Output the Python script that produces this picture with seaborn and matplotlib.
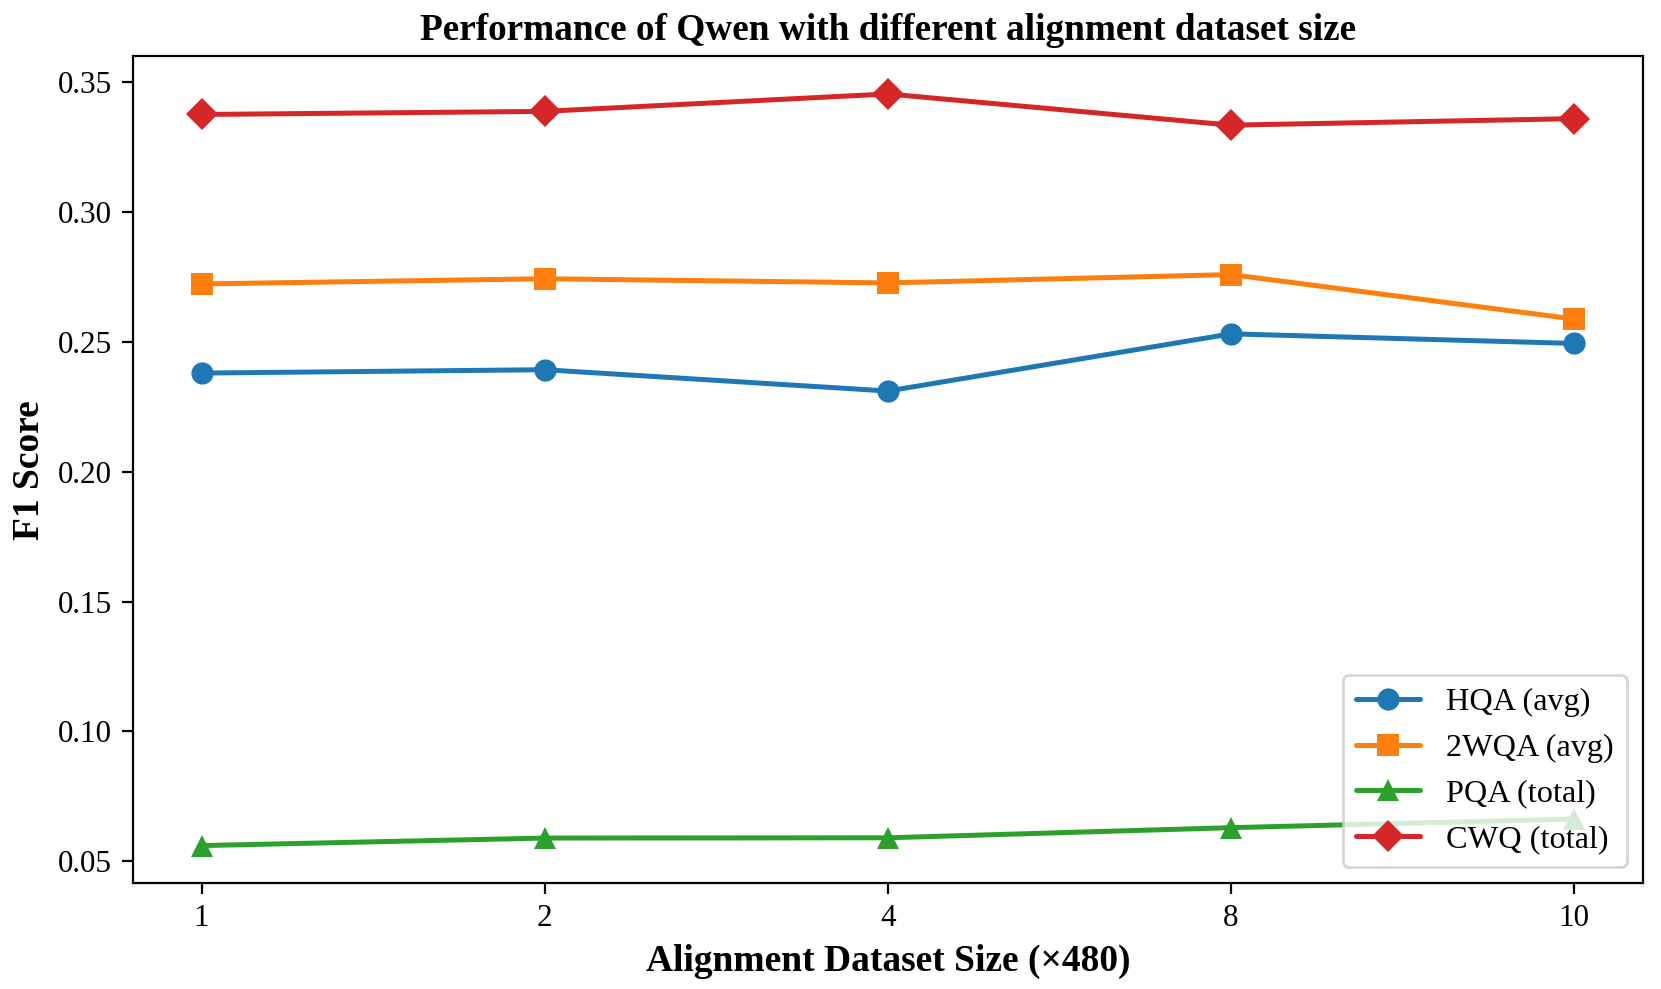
import matplotlib
matplotlib.use("Agg")
import matplotlib.pyplot as plt
import seaborn as sns
import pandas as pd

sizes = ["1", "2", "4", "8", "10"]
hqa = [0.2379, 0.2392, 0.2310, 0.2530, 0.2493]
wqa2 = [0.2722, 0.2742, 0.2726, 0.2758, 0.2587]
pqa = [0.0561, 0.0590, 0.0591, 0.0630, 0.0663]
cwq = [0.3374, 0.3386, 0.3453, 0.3333, 0.3358]

series = [("HQA (avg)", hqa, "o", "#1f77b4"),
          ("2WQA (avg)", wqa2, "s", "#ff7f0e"),
          ("PQA (total)", pqa, "^", "#2ca02c"),
          ("CWQ (total)", cwq, "D", "#d62728")]

sns.set_style("white")
plt.rcParams['font.family'] = ['Liberation Serif', 'DejaVu Serif']
plt.rcParams['text.color'] = 'black'
plt.rcParams['axes.labelcolor'] = 'black'
plt.rcParams['xtick.color'] = 'black'
plt.rcParams['ytick.color'] = 'black'

fig, ax = plt.subplots(figsize=(8.305, 4.945), dpi=200)
for name, vals, mk, col in series:
    df = pd.DataFrame({"size": sizes, "f1": vals})
    sns.lineplot(data=df, x="size", y="f1", ax=ax, marker=mk, color=col,
                 label=name, linewidth=1.8, markersize=8, markeredgewidth=0)

ax.set_xlim(-0.2, 4.2)
yt = [0.05, 0.10, 0.15, 0.20, 0.25, 0.30, 0.35]
ax.set_yticks(yt)
ax.set_yticklabels([f"{v:.2f}" for v in yt])
ax.tick_params(axis='both', labelsize=11.2, length=4, width=0.8, left=True, bottom=True,
               direction='out', colors='black')
ax.set_xlabel("Alignment Dataset Size (×480)", fontsize=13.5, fontweight='bold', color='black')
ax.set_ylabel("F1 Score", fontsize=13.5, fontweight='bold', color='black')
ax.set_title("Performance of Qwen with different alignment dataset size", fontsize=13.4,
             fontweight='bold', color='black')
for s in ax.spines.values():
    s.set_color('black')
    s.set_linewidth(0.8)
leg = ax.legend(loc='lower right', fontsize=11.6, framealpha=0.8)
for t in leg.get_texts():
    t.set_color('black')
fig.subplots_adjust(left=0.080, right=0.989, top=0.943, bottom=0.107)
fig.savefig("out.png", dpi=200)
